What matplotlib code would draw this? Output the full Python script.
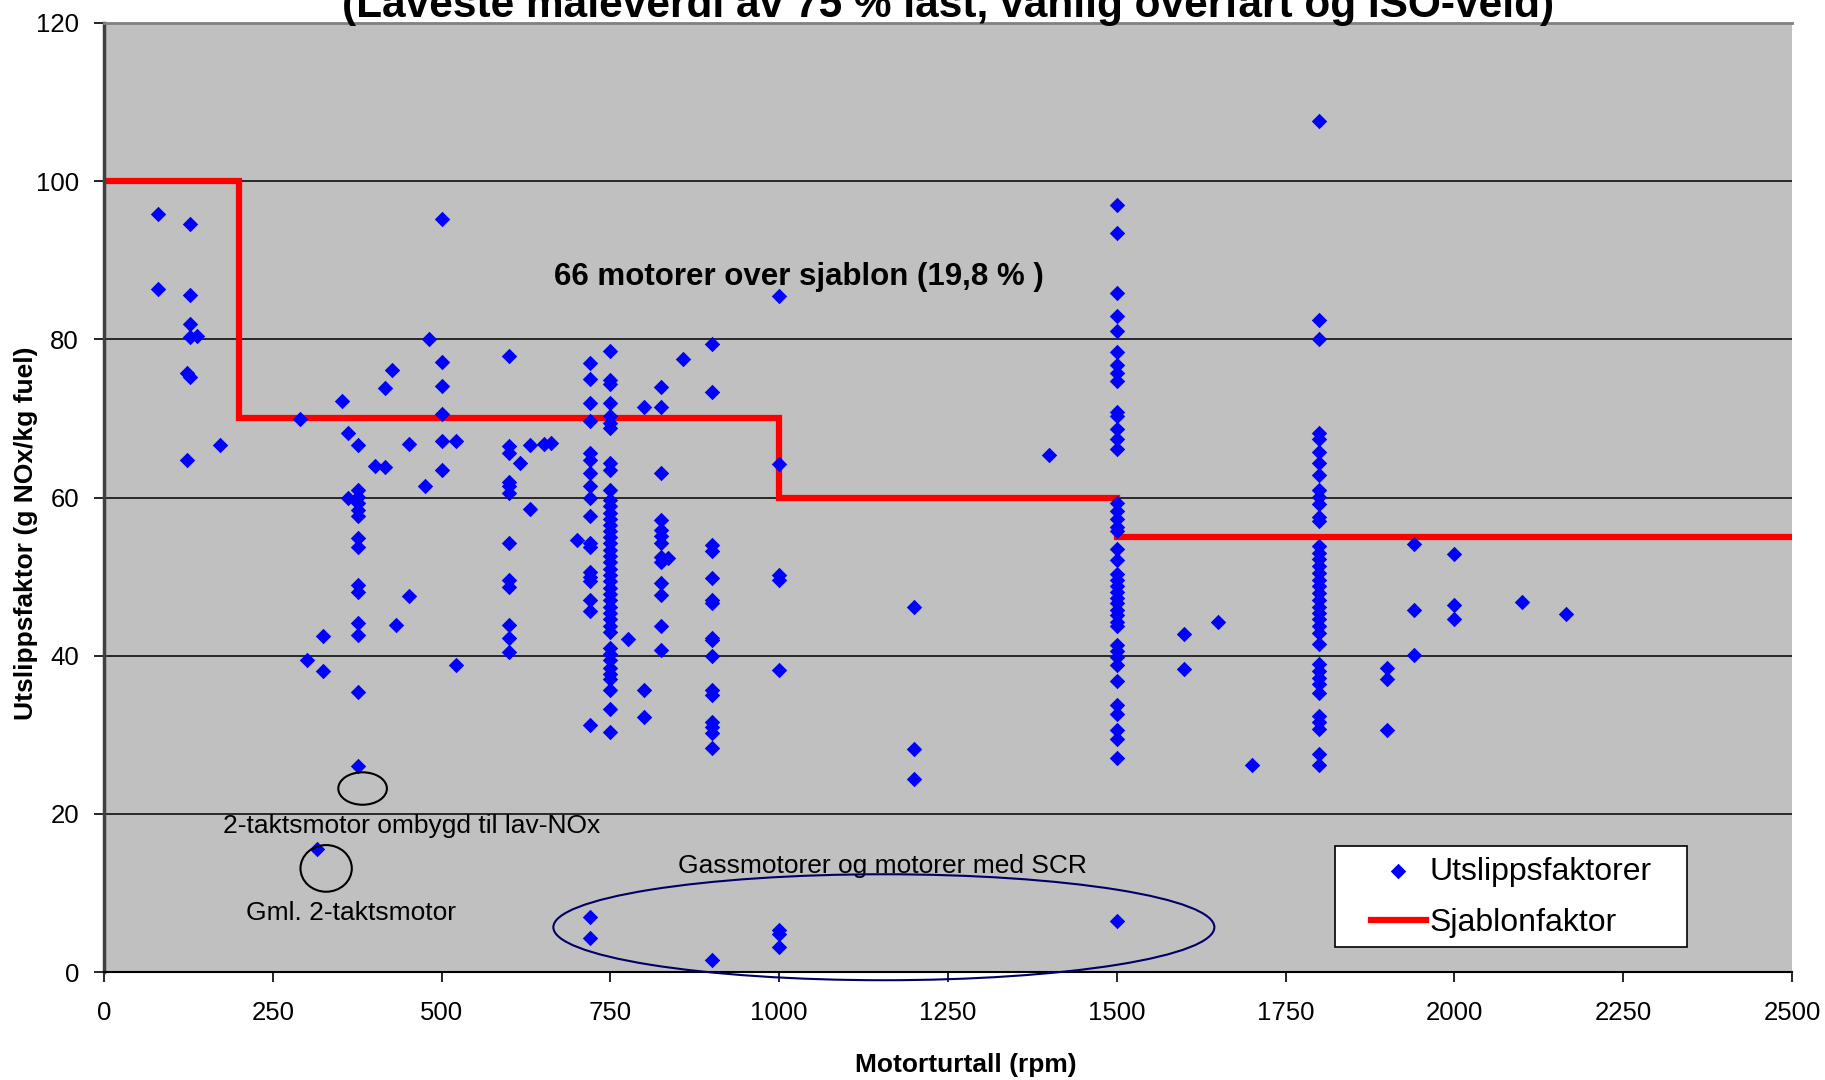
import matplotlib
matplotlib.use("Agg")
import matplotlib.pyplot as plt
from matplotlib.patches import Ellipse, Rectangle
from matplotlib import font_manager
import numpy as np

# motors: rpm per column and measured NOx factors (g NOx / kg fuel)
motor_rpm = [80, 123, 128, 137, 172, 291, 300, 316, 324, 352, 361, 376, 401, 416, 426,
             432, 452, 476, 481, 500, 521, 600, 616, 631, 651, 662, 700, 720, 750, 776,
             800, 825, 836, 857, 900, 1000, 1200, 1400, 1500, 1600, 1650, 1700, 1800,
             1900, 1940, 2000, 2100, 2165]
motor_nox = [
    [95.9, 86.4],
    [75.7, 64.7],
    [94.6, 85.6, 82.0, 80.3, 75.2],
    [80.4],
    [66.6],
    [69.9],
    [39.4],
    [15.6],
    [42.5, 38.1],
    [72.2],
    [68.1, 60.0],
    [66.6, 61.0, 60.1, 59.3, 58.4, 57.6, 54.9, 53.8, 48.9, 48.1, 44.1, 42.6, 35.4, 26.0],
    [64.0],
    [73.8, 63.9],
    [76.1],
    [43.9],
    [66.8, 47.6],
    [61.5],
    [80.0],
    [95.2, 77.1, 74.1, 70.5, 67.1, 63.5],
    [67.1, 38.8],
    [77.9, 66.5, 65.6, 62.0, 61.4, 60.6, 54.3, 49.6, 48.7, 43.9, 42.2, 40.5],
    [64.4],
    [66.6, 58.5],
    [66.8],
    [66.9],
    [54.6],
    [77.0, 75.0, 72.0, 69.7, 65.6, 64.8, 63.1, 61.4, 59.9, 57.6, 54.2, 53.8, 50.6, 50.0,
     49.4, 47.1, 45.6, 31.2, 7.0, 4.3],
    [78.5, 74.9, 74.3, 71.9, 70.3, 69.4, 68.8, 64.4, 63.5, 61.0, 59.7, 58.9, 58.1, 57.3,
     56.5, 55.8, 55.0, 54.2, 53.4, 52.6, 51.8, 51.0, 50.2, 49.4, 48.6, 47.8, 47.0, 46.2,
     45.4, 44.6, 43.8, 43.0, 41.0, 40.2, 39.4, 38.5, 37.7, 37.1, 35.6, 33.3, 30.3],
    [42.1],
    [71.4, 35.6, 32.2],
    [74.0, 71.5, 63.1, 57.1, 55.9, 55.1, 54.2, 52.5, 51.9, 49.2, 47.7, 43.8, 40.7],
    [52.3],
    [77.5],
    [79.4, 73.4, 54.0, 53.2, 49.8, 47.0, 46.6, 42.2, 42.0, 39.9, 35.7, 35.0, 31.6, 31.0,
     30.2, 28.3, 1.5],
    [85.5, 64.2, 50.2, 49.6, 38.2, 5.3, 4.8, 3.2],
    [46.1, 28.2, 24.4],
    [65.4],
    [97.0, 93.4, 85.9, 83.0, 81.1, 78.4, 76.8, 75.8, 74.7, 70.8, 70.3, 68.6, 67.4, 66.1,
     59.3, 58.3, 57.3, 56.3, 55.8, 53.5, 52.1, 50.3, 49.6, 48.8, 48.1, 47.3, 46.6, 45.8,
     45.1, 44.3, 43.8, 41.3, 40.6, 39.8, 38.8, 36.8, 33.8, 32.6, 30.6, 29.4, 27.0, 6.4],
    [42.7, 38.3],
    [44.3],
    [26.2],
    [107.6, 82.5, 80.1, 68.2, 67.4, 65.7, 64.3, 62.9, 60.9, 60.1, 59.2, 57.5, 57.0, 53.9,
     53.0, 52.2, 51.3, 50.5, 49.6, 48.8, 47.9, 47.1, 46.2, 45.4, 44.6, 43.7, 42.9, 41.5,
     38.9, 38.1, 37.2, 36.4, 35.3, 32.4, 31.6, 30.7, 27.6, 26.2],
    [38.5, 37.1, 30.6],
    [54.1, 45.8, 40.1],
    [52.8, 46.4, 44.6],
    [46.8],
    [45.3],
]

# sjablon (standard factor) steps
sjablon_rpm = [0, 200, 1000, 1500, 2500]
sjablon_val = [100, 70, 60, 55, 55]

x_ticks = list(range(0, 2501, 250))
y_ticks = list(range(0, 121, 20))

title = "(Laveste måleverdi av 75 % last, vanlig overfart og ISO-veid)"
note_over = "66 motorer over sjablon (19,8 % )"
note_lavnox = "2-taktsmotor ombygd til lav-NOx"
note_gml = "Gml. 2-taktsmotor"
note_gass = "Gassmotorer og motorer med SCR"

names = {f.name for f in font_manager.fontManager.ttflist}
narrow = "Liberation Sans Narrow" if "Liberation Sans Narrow" in names else None
plt.rcParams["font.family"] = ["Liberation Sans", "DejaVu Sans"]

xs = np.concatenate([[r] * len(v) for r, v in zip(motor_rpm, motor_nox)])
ys = np.concatenate(motor_nox)

fig = plt.figure(figsize=(18.25, 10.8), dpi=100)
ax = fig.add_axes([104 / 1825, 108 / 1080, 1688 / 1825, 949 / 1080])
ax.set_facecolor("#c0c0c0")

line, = ax.step(sjablon_rpm, sjablon_val, where="post", color="#ff0000", lw=4.5, zorder=2,
                solid_joinstyle="miter")
pts = ax.scatter(xs, ys, marker="D", s=62, color="#0000ff", lw=0, zorder=3)

ax.set_xlim(0, 2500)
ax.set_ylim(0, 120)
ax.set_xticks(x_ticks)
ax.set_yticks(y_ticks)
ax.grid(axis="y", color="black", lw=1.1)
ax.set_axisbelow(True)
ax.tick_params(direction="out", length=7, width=1.2, labelsize=18.5)
ax.tick_params(axis="y", pad=11)
ax.tick_params(axis="x", pad=14)

ax.spines["right"].set_visible(False)
ax.spines["top"].set_color("#808080")
ax.spines["top"].set_linewidth(2)
ax.spines["left"].set_color("#404040")
ax.spines["left"].set_linewidth(2.5)
ax.spines["bottom"].set_linewidth(1.5)

# annotations
if narrow:
    nkw = dict(family=narrow, fontsize=23)
    tkw = dict(family=narrow, fontsize=36, fontweight="bold")
else:
    nkw = dict(fontsize=19)
    tkw = dict(fontsize=30.5, fontweight="bold")

ax.text(1029, 87.9, note_over, ha="center", va="center", fontsize=22.5, fontweight="bold")
ax.text(456, 18.5, note_lavnox, ha="center", va="center", **nkw)
ax.text(366, 7.4, note_gml, ha="center", va="center", **nkw)
ax.text(1153, 13.4, note_gass, ha="center", va="center", **nkw)

ax.add_patch(Ellipse((383, 23.2), 72, 4.1, fill=False, edgecolor="black", lw=1.5, zorder=4))
ax.add_patch(Ellipse((329, 13.1), 76, 5.9, fill=False, edgecolor="black", lw=1.5, zorder=4))
ax.add_patch(Ellipse((1155, 5.66), 979, 13.4, fill=False, edgecolor="#000066", lw=1.5,
                     zorder=4, clip_on=False))

# legend box drawn separately so the padding matches the original
ax.add_patch(Rectangle((0.729, 0.026), 0.209, 0.107, transform=ax.transAxes,
                       facecolor="white", edgecolor="black", lw=1.2, zorder=5))
leg = ax.legend([pts, line], ["Utslippsfaktorer", "Sjablonfaktor"], loc="center left",
                bbox_to_anchor=(0.7506, 0.0786), fontsize=23, frameon=False,
                borderaxespad=0, borderpad=0, handlelength=1.72, handletextpad=0.12,
                labelspacing=0.66)
leg.set_zorder(6)

fig.text(948 / 1825, 1 - 17 / 1080, title, ha="center", va="baseline", **tkw)
fig.text(26 / 1825, 1 - 533 / 1080, "Utslippsfaktor (g NOx/kg fuel)", rotation=90,
         ha="center", va="center", fontsize=19, fontweight="bold")
fig.text(966 / 1825, 1 - 1065 / 1080, "Motorturtall (rpm)", ha="center", va="center",
         fontsize=19, fontweight="bold")

fig.savefig("out.png", dpi=100, facecolor="white")
